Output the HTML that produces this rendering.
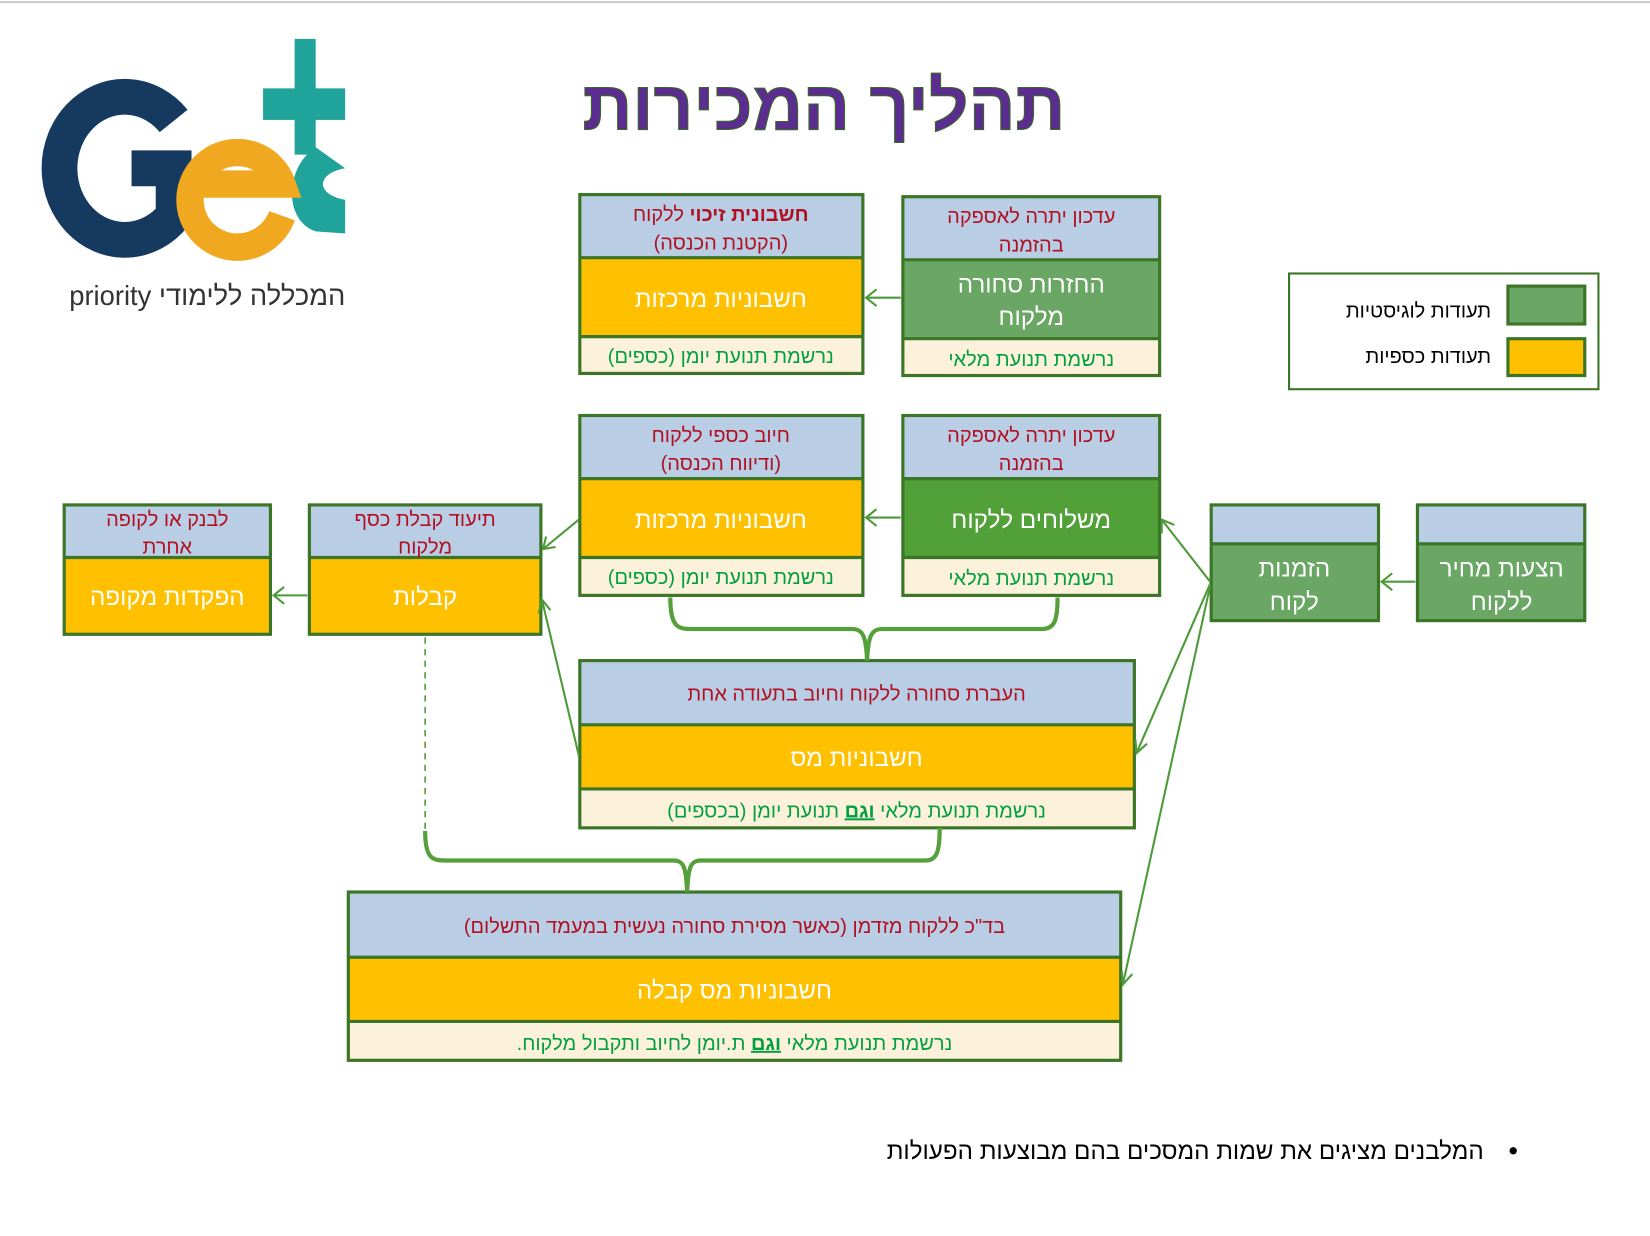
<!DOCTYPE html>
<html><head><meta charset="utf-8"><style>
html,body{margin:0;padding:0;background:#fff;}
svg{display:block}
text{font-family:"Liberation Sans","DejaVu Sans",sans-serif;}
.h{fill:#b01020;font-size:19px;text-anchor:middle;direction:rtl}
.m{fill:#fff;font-size:23px;text-anchor:middle;direction:rtl}
.b{fill:#00a040;font-size:19px;text-anchor:middle;direction:rtl}
.bl{fill:#b9cde5}.y{fill:#ffc000}.cr{fill:#fcf1db}.g{fill:#6aa664}.dg{fill:#52a038}
.bd{fill:none;stroke:#3b7526;stroke-width:3}
.ar{fill:none;stroke:#4e9a3a;stroke-width:2}
.br{fill:none;stroke:#55a03a;stroke-width:4}
</style></head><body>
<svg width="1650" height="1236" viewBox="0 0 1568 1175" preserveAspectRatio="none">
<line x1="0" y1="2" x2="1568" y2="2" stroke="#ccc" stroke-width="2"/>
<!-- logo -->
<path d="M165 115 A62 68 0 1 0 165 205 L165 160 L125 160" fill="none" stroke="#163a5f" stroke-width="34"/>
<rect x="280" y="37" width="20" height="110" fill="#1fa39a"/>
<rect x="250" y="84" width="78" height="30" fill="#1fa39a"/>
<path d="M300 140 C270 160,270 210,300 220 L328 222 L328 190 C300 185,300 165,328 160 Z" fill="#1fa39a"/>
<path d="M268 205 A45 45 0 1 1 268 175 L182 175" fill="none" stroke="#f0a820" stroke-width="26"/>
<text x="197" y="290" style="font-size:26px;fill:#333;text-anchor:middle;direction:rtl">המכללה ללימודי priority</text>
<!-- title -->
<text x="783" y="123" style="font-size:66px;font-weight:bold;fill:#5b2d90;text-anchor:middle;direction:rtl;stroke:#3a6a20;stroke-width:1">תהליך המכירות</text>
<!-- legend -->
<rect x="1225" y="260" width="294" height="110" fill="#fff" stroke="#3b7526" stroke-width="2"/>
<rect x="1433" y="272" width="73" height="36" class="g"/><rect x="1433" y="272" width="73" height="36" class="bd"/>
<rect x="1433" y="322" width="73" height="35" class="y"/><rect x="1433" y="322" width="73" height="35" class="bd"/>
<text x="1417" y="302" style="font-size:19px;text-anchor:start;direction:rtl">תעודות לוגיסטיות</text>
<text x="1417" y="345" style="font-size:19px;text-anchor:start;direction:rtl">תעודות כספיות</text>
<!-- Box A -->
<rect x="551" y="185" width="269" height="60" class="bl"/><rect x="551" y="245" width="269" height="75" class="y"/><rect x="551" y="320" width="269" height="35" class="cr"/>
<rect x="551" y="185" width="269" height="170" class="bd"/><line x1="551" y1="245" x2="820" y2="245" class="bd"/><line x1="551" y1="320" x2="820" y2="320" class="bd"/>
<text x="685" y="210" class="h"><tspan font-weight="bold">חשבונית זיכוי</tspan> ללקוח</text>
<text x="685" y="237" class="h">(הקטנת הכנסה)</text>
<text x="685" y="292" class="m">חשבוניות מרכזות</text>
<text x="685" y="345" class="b">נרשמת תנועת יומן (כספים)</text>
<!-- Box B -->
<rect x="858" y="187" width="244" height="60" class="bl"/><rect x="858" y="247" width="244" height="75" class="g"/><rect x="858" y="322" width="244" height="35" class="cr"/>
<rect x="858" y="187" width="244" height="170" class="bd"/><line x1="858" y1="247" x2="1102" y2="247" class="bd"/><line x1="858" y1="322" x2="1102" y2="322" class="bd"/>
<text x="980" y="212" class="h">עדכון יתרה לאספקה</text><text x="980" y="239" class="h">בהזמנה</text>
<text x="980" y="278" class="m">החזרות סחורה</text><text x="980" y="309" class="m">מלקוח</text>
<text x="980" y="348" class="b">נרשמת תנועת מלאי</text>
<!-- Box C -->
<rect x="551" y="395" width="269" height="60" class="bl"/><rect x="551" y="455" width="269" height="75" class="y"/><rect x="551" y="530" width="269" height="36" class="cr"/>
<rect x="551" y="395" width="269" height="171" class="bd"/><line x1="551" y1="455" x2="820" y2="455" class="bd"/><line x1="551" y1="530" x2="820" y2="530" class="bd"/>
<text x="685" y="420" class="h">חיוב כספי ללקוח</text><text x="685" y="447" class="h">(ודיווח הכנסה)</text>
<text x="685" y="502" class="m">חשבוניות מרכזות</text>
<text x="685" y="555" class="b">נרשמת תנועת יומן (כספים)</text>
<!-- Box D -->
<rect x="858" y="395" width="244" height="60" class="bl"/><rect x="858" y="455" width="244" height="75" class="dg"/><rect x="858" y="530" width="244" height="36" class="cr"/>
<rect x="858" y="395" width="244" height="171" class="bd"/><line x1="858" y1="455" x2="1102" y2="455" class="bd"/><line x1="858" y1="530" x2="1102" y2="530" class="bd"/>
<text x="980" y="420" class="h">עדכון יתרה לאספקה</text><text x="980" y="447" class="h">בהזמנה</text>
<text x="980" y="502" class="m">משלוחים ללקוח</text>
<text x="980" y="556" class="b">נרשמת תנועת מלאי</text>
<!-- Box E -->
<rect x="1151" y="480" width="159" height="37" class="bl"/><rect x="1151" y="517" width="159" height="73" class="g"/>
<rect x="1151" y="480" width="159" height="110" class="bd"/><line x1="1151" y1="517" x2="1310" y2="517" class="bd"/>
<text x="1230" y="548" class="m">הזמנות</text><text x="1230" y="580" class="m">לקוח</text>
<!-- Box F -->
<rect x="1347" y="480" width="159" height="37" class="bl"/><rect x="1347" y="517" width="159" height="73" class="g"/>
<rect x="1347" y="480" width="159" height="110" class="bd"/><line x1="1347" y1="517" x2="1506" y2="517" class="bd"/>
<text x="1427" y="548" class="m">הצעות מחיר</text><text x="1427" y="580" class="m">ללקוח</text>
<!-- Box G -->
<rect x="294" y="480" width="220" height="50" class="bl"/><rect x="294" y="530" width="220" height="73" class="y"/>
<rect x="294" y="480" width="220" height="123" class="bd"/><line x1="294" y1="530" x2="514" y2="530" class="bd"/>
<text x="404" y="500" class="h">תיעוד קבלת כסף</text><text x="404" y="526" class="h">מלקוח</text>
<text x="404" y="575" class="m">קבלות</text>
<!-- Box H -->
<rect x="61" y="480" width="196" height="50" class="bl"/><rect x="61" y="530" width="196" height="73" class="y"/>
<rect x="61" y="480" width="196" height="123" class="bd"/><line x1="61" y1="530" x2="257" y2="530" class="bd"/>
<text x="159" y="500" class="h">לבנק או לקופה</text><text x="159" y="526" class="h">אחרת</text>
<text x="159" y="575" class="m">הפקדות מקופה</text>
<!-- Box I -->
<rect x="551" y="628" width="527" height="61" class="bl"/><rect x="551" y="689" width="527" height="61" class="y"/><rect x="551" y="750" width="527" height="37" class="cr"/>
<rect x="551" y="628" width="527" height="159" class="bd"/><line x1="551" y1="689" x2="1078" y2="689" class="bd"/><line x1="551" y1="750" x2="1078" y2="750" class="bd"/>
<text x="814" y="666" class="h">העברת סחורה ללקוח וחיוב בתעודה אחת</text>
<text x="814" y="728" class="m">חשבוניות מס</text>
<text x="814" y="777" class="b">נרשמת תנועת מלאי <tspan font-weight="bold" text-decoration="underline">וגם</tspan> תנועת יומן (בכספים)</text>
<!-- Box J -->
<rect x="331" y="848" width="734" height="62" class="bl"/><rect x="331" y="910" width="734" height="61" class="y"/><rect x="331" y="971" width="734" height="37" class="cr"/>
<rect x="331" y="848" width="734" height="160" class="bd"/><line x1="331" y1="910" x2="1065" y2="910" class="bd"/><line x1="331" y1="971" x2="1065" y2="971" class="bd"/>
<text x="698" y="887" class="h">בד"כ ללקוח מזדמן (כאשר מסירת סחורה נעשית במעמד התשלום)</text>
<text x="698" y="949" class="m">חשבוניות מס קבלה</text>
<text x="698" y="998" class="b">נרשמת תנועת מלאי <tspan font-weight="bold" text-decoration="underline">וגם</tspan> ת.יומן לחיוב ותקבול מלקוח.</text>
<!-- braces -->
<path d="M637 568 C637 598,645 598,660 598 L810 598 C820 598,823 605,824 628 C825 605,828 598,838 598 L990 598 C1002 598,1005 590,1005 568" class="br"/>
<path d="M404 790 C404 818,412 818,425 818 L640 818 C650 818,652 825,653 848 C654 825,656 818,666 818 L880 818 C890 818,893 810,893 787" class="br"/>
<line x1="404" y1="606" x2="404" y2="790" stroke="#4e9a3a" stroke-width="1.5" stroke-dasharray="6,5"/>
<!-- arrows -->
<g class="ar">
<line x1="856" y1="283" x2="823" y2="283"/><path d="M833 275 L823 283 L833 291"/>
<line x1="856" y1="492" x2="823" y2="492"/><path d="M833 484 L823 492 L833 500"/>
<line x1="1345" y1="553" x2="1313" y2="553"/><path d="M1323 545 L1313 553 L1323 561"/>
<line x1="292" y1="566" x2="260" y2="566"/><path d="M270 558 L260 566 L270 574"/>
<line x1="1150" y1="553" x2="1104" y2="494"/><path d="M1104 507 L1104 494 L1116 499"/>
<line x1="1150" y1="555" x2="1080" y2="716"/><path d="M1079 703 L1080 716 L1090 707"/>
<line x1="1150" y1="557" x2="1067" y2="936"/><path d="M1066 923 L1067 936 L1076 926"/>
<line x1="550" y1="494" x2="516" y2="522"/><path d="M519 510 L516 522 L528 520"/>
<line x1="550" y1="718" x2="515" y2="570"/><path d="M512 583 L515 570 L523 580"/>
</g>
<!-- bullet -->
<circle cx="1438" cy="1094" r="3.5" fill="#000"/>
<text x="1410" y="1102" style="font-size:23px;fill:#000;text-anchor:start;direction:rtl">המלבנים מציגים את שמות המסכים בהם מבוצעות הפעולות</text>
</svg>
</body></html>
